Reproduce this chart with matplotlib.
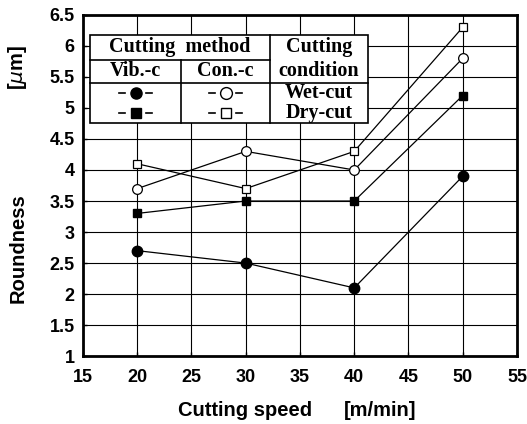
import numpy as np
import matplotlib
matplotlib.use('Agg')
import matplotlib.pyplot as plt
from matplotlib.lines import Line2D

##################################################################
# Data
speed = [20, 30, 40, 50]                    # m/min
vib_wet = [2.7, 2.5, 2.1, 3.9]              # um
vib_dry = [3.3, 3.5, 3.5, 5.2]
con_wet = [3.7, 4.3, 4.0, 5.8]
con_dry = [4.1, 3.7, 4.3, 6.3]

xticks = [15, 20, 25, 30, 35, 40, 45, 50, 55]
yticks = [1, 1.5, 2, 2.5, 3, 3.5, 4, 4.5, 5, 5.5, 6, 6.5]
ytick_labels = ['1', '1.5', '2', '2.5', '3', '3.5', '4', '4.5', '5', '5.5', '6', '6.5']

sans = 'Liberation Sans'
serif = 'Liberation Serif'

##################################################################
# Prepare plotting
fig = plt.figure(figsize=(5.27, 4.24), dpi=100)
ax = fig.add_axes([0.1575, 0.160, 0.8235, 0.805])

# Series
ax.plot(speed, vib_wet, color='black', lw=0.9, marker='o', ms=7.5,
        mfc='black', mec='black', zorder=3)
ax.plot(speed, vib_dry, color='black', lw=0.9, marker='s', ms=6,
        mfc='black', mec='black', zorder=3)
ax.plot(speed, con_wet, color='black', lw=0.9, marker='o', ms=7,
        mfc='white', mec='black', mew=0.9, zorder=3)
ax.plot(speed, con_dry, color='black', lw=0.9, marker='s', ms=6,
        mfc='white', mec='black', mew=0.9, zorder=3)

# Axes
ax.set_xlim(15, 55)
ax.set_ylim(1, 6.5)
ax.set_xticks(xticks)
ax.set_yticks(yticks)
ax.set_yticklabels(ytick_labels)
ax.grid(True, color='black', lw=0.8)
ax.set_axisbelow(True)
for s in ax.spines.values():
    s.set_linewidth(2)
ax.tick_params(direction='in', length=3, width=1)
ax.tick_params(axis='x', pad=9)
ax.tick_params(axis='y', pad=6)
for lab in ax.get_xticklabels() + ax.get_yticklabels():
    lab.set_fontfamily(sans)
    lab.set_fontweight('bold')
    lab.set_fontsize(13)

# Axis labels
lkw = dict(ha='center', va='center', fontfamily=sans, fontweight='bold', fontsize=14.5)
fig.text(0.034, 0.415, 'Roundness', rotation=90, **lkw)
fig.text(0.034, 0.84, r'[$\mu$m]', rotation=90, **lkw)
fig.text(0.465, 0.033, 'Cutting speed', **lkw)
fig.text(0.721, 0.033, '[m/min]', **lkw)

##################################################################
# Legend table (axes fraction)
x0, x1, x2, x3 = 0.016, 0.226, 0.431, 0.657
y0, y1, y2, y3 = 0.941, 0.868, 0.801, 0.683
tr = ax.transAxes
ax.add_patch(plt.Rectangle((x0, y3), x3 - x0, y0 - y3, transform=tr,
                           facecolor='white', edgecolor='black', lw=1.2, zorder=5))
kw = dict(transform=tr, color='black', lw=1.2, zorder=6)
ax.add_line(Line2D([x0, x2], [y1, y1], **kw))
ax.add_line(Line2D([x0, x3], [y2, y2], **kw))
ax.add_line(Line2D([x1, x1], [y3, y1], **kw))
ax.add_line(Line2D([x2, x2], [y3, y0], **kw))

tkw = dict(transform=tr, ha='center', va='center', fontfamily=serif,
           fontweight='bold', fontsize=14.5, zorder=7)
ax.text((x0 + x2) / 2, (y0 + y1) / 2, 'Cutting  method', **tkw)
ax.text((x0 + x1) / 2, (y1 + y2) / 2, 'Vib.-c', **tkw)
ax.text((x1 + x2) / 2, (y1 + y2) / 2, 'Con.-c', **tkw)
ax.text((x2 + x3) / 2, (y0 + y1) / 2, 'Cutting', **tkw)
ax.text((x2 + x3) / 2, (y1 + y2) / 2, 'condition', **tkw)
yw, yd = 0.771, 0.712
ax.text((x2 + x3) / 2, yw, 'Wet-cut', **tkw)
ax.text((x2 + x3) / 2, yd, 'Dry-cut', **tkw)

# Legend markers
legend_marks = [
    ((x0 + x1) / 2, yw, 'o', 'black', 8),
    ((x0 + x1) / 2, yd, 's', 'black', 7),
    ((x1 + x2) / 2, yw, 'o', 'white', 8.5),
    ((x1 + x2) / 2, yd, 's', 'white', 7.5),
]
for cx, cy, m, fc, ms in legend_marks:
    ax.add_line(Line2D([cx - 0.038, cx - 0.024], [cy, cy], **kw))
    ax.add_line(Line2D([cx + 0.024, cx + 0.038], [cy, cy], **kw))
    ax.add_line(Line2D([cx], [cy], transform=tr, marker=m, ms=ms, mfc=fc,
                       mec='black', mew=1, zorder=7))

fig.savefig('out.png', dpi=100)
